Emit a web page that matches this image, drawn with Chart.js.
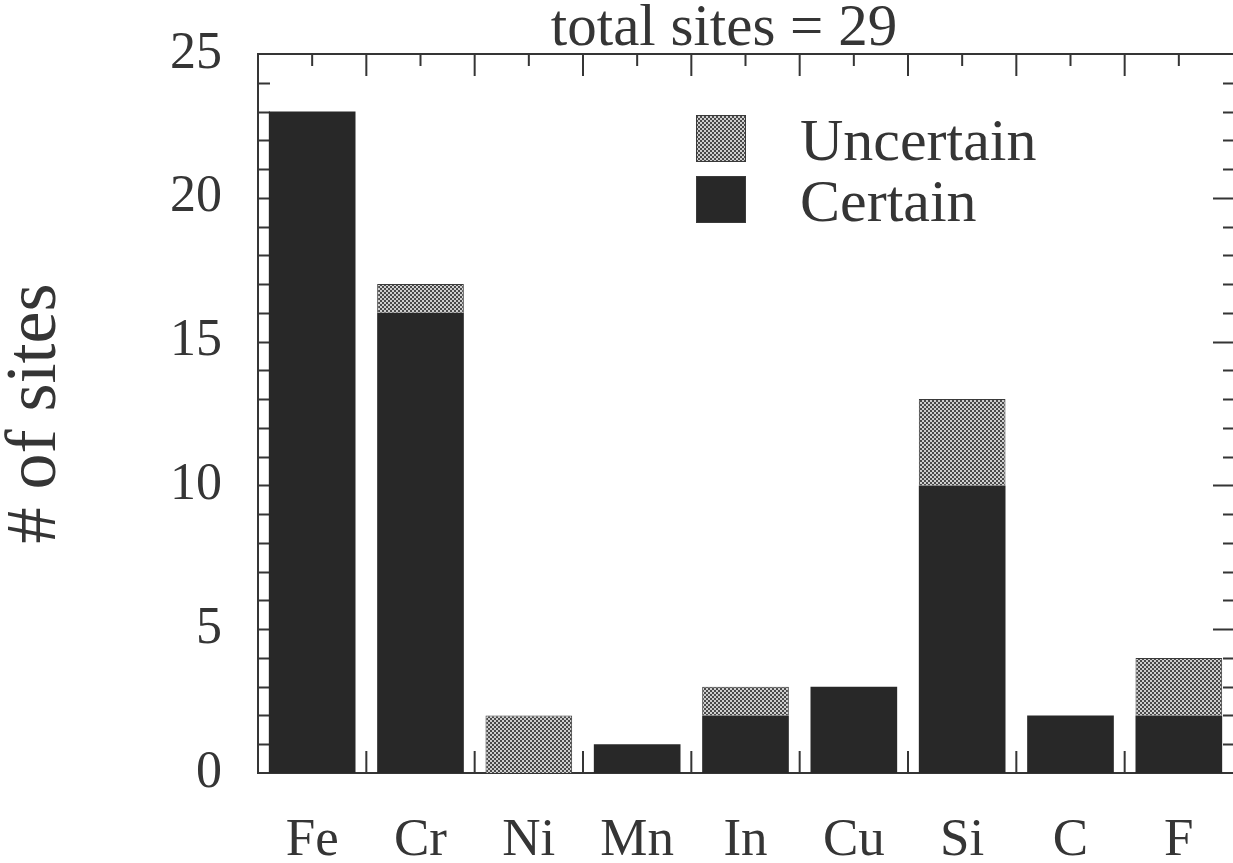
<!DOCTYPE html>
<html>
<head>
<meta charset="utf-8">
<script src="https://cdn.jsdelivr.net/npm/chart.js@4"></script>
<style>
  html, body { margin: 0; padding: 0; background: #fff; overflow: hidden; }
</style>
</head>
<body>
<canvas id="sitesChart" width="1233" height="863"></canvas>
<script>
// data
const elements = ["Fe", "Cr", "Ni", "Mn", "In", "Cu", "Si", "C", "F"];
const certain = [23, 16, 0, 1, 2, 3, 10, 2, 2];
const uncertain = [0, 1, 2, 0, 1, 0, 3, 0, 2];
const yTicks = [0, 5, 10, 15, 20, 25];
const titleText = "total sites = 29";

const FONT = "'Liberation Serif', 'Times New Roman', serif";
const INK = "#353535";
const BAR_DARK = "#282828";

// checkered fill for the "uncertain" bars
function checker() {
  const c = document.createElement("canvas");
  c.width = 4;
  c.height = 4;
  const g = c.getContext("2d");
  g.fillStyle = "#cfcfcf";
  g.fillRect(0, 0, 4, 4);
  g.fillStyle = "#4a4a4a";
  g.fillRect(0, 0, 2, 2);
  g.fillRect(2, 2, 2, 2);
  return g.createPattern(c, "repeat");
}
const hatch = checker();

// frame + inward ticks, drawn under the bars
// (the right-hand frame line sits just past the picture edge)
const frameTicks = {
  id: "frameTicks",
  beforeDatasetsDraw(chart) {
    const { ctx, chartArea: a, scales } = chart;
    const x = scales.x, y = scales.y;
    ctx.save();
    ctx.strokeStyle = INK;
    ctx.lineWidth = 2;
    ctx.beginPath();
    // y ticks, every unit, longer at multiples of 5
    for (let v = 1; v < 25; v++) {
      const py = Math.round(y.getPixelForValue(v)) + 0.5;
      const len = v % 5 === 0 ? 22 : 12;
      ctx.moveTo(a.left, py); ctx.lineTo(a.left + len, py);
      ctx.moveTo(a.right + 2, py); ctx.lineTo(a.right + 2 - len, py);
    }
    // x ticks: major between categories, minor at centres
    for (let i = 0; i < elements.length; i++) {
      const c = x.getPixelForValue(i);
      ctx.moveTo(c, a.top); ctx.lineTo(c, a.top + 12);
      ctx.moveTo(c, a.bottom); ctx.lineTo(c, a.bottom - 12);
      if (i < elements.length - 1) {
        const b = (c + x.getPixelForValue(i + 1)) / 2;
        ctx.moveTo(b, a.top); ctx.lineTo(b, a.top + 22);
        ctx.moveTo(b, a.bottom); ctx.lineTo(b, a.bottom - 22);
      }
    }
    // left, top, bottom frame lines
    ctx.moveTo(a.right + 2, a.top); ctx.lineTo(a.left, a.top);
    ctx.lineTo(a.left, a.bottom); ctx.lineTo(a.right + 2, a.bottom);
    ctx.stroke();
    ctx.restore();
  },
  afterDraw(chart) {
    const { ctx } = chart;
    ctx.save();
    // title
    ctx.fillStyle = INK;
    ctx.font = "59px " + FONT;
    ctx.textAlign = "center";
    ctx.textBaseline = "alphabetic";
    ctx.fillText(titleText, 724, 45);
    // legend
    const items = [
      { label: "Uncertain", fill: hatch, y: 115, base: 160 },
      { label: "Certain", fill: BAR_DARK, y: 176, base: 221 },
    ];
    ctx.font = "60px " + FONT;
    ctx.textAlign = "left";
    items.forEach((it) => {
      ctx.fillStyle = it.fill;
      ctx.fillRect(696, it.y, 50, 47);
      ctx.strokeStyle = "#3a3a3a";
      ctx.lineWidth = 1;
      ctx.strokeRect(696.5, it.y + 0.5, 49, 46);
      ctx.fillStyle = INK;
      ctx.fillText(it.label, 800, it.base);
    });
    ctx.restore();
  },
};

const ctxSites = document.getElementById("sitesChart").getContext("2d");
const sitesChart = new Chart(ctxSites, {
  type: "bar",
  data: {
    labels: elements,
    datasets: [
      {
        label: "Certain",
        data: certain,
        backgroundColor: BAR_DARK,
        borderWidth: 0,
        categoryPercentage: 1,
        barPercentage: 0.8,
      },
      {
        label: "Uncertain",
        data: uncertain,
        backgroundColor: hatch,
        borderColor: "#3a3a3a",
        borderWidth: (c) => (c.raw > 0 ? 1 : 0),
        categoryPercentage: 1,
        barPercentage: 0.8,
      },
    ],
  },
  options: {
    responsive: false,
    animation: false,
    devicePixelRatio: 1,
    layout: { padding: { top: 54, right: 0, left: 0, bottom: 0 } },
    plugins: {
      legend: { display: false },
      title: { display: false },
      tooltip: { enabled: false },
    },
    scales: {
      x: {
        stacked: true,
        grid: { display: false, drawTicks: false },
        border: { display: false },
        ticks: {
          font: { family: FONT, size: 53 },
          color: INK,
          padding: 36,
          maxRotation: 0,
          autoSkip: false,
        },
        afterFit(s) { s.height = 90; },
      },
      y: {
        stacked: true,
        min: 0,
        max: 25,
        afterBuildTicks(s) { s.ticks = yTicks.map((v) => ({ value: v })); },
        grid: { display: false, drawTicks: false },
        border: { display: false },
        ticks: {
          font: { family: FONT, size: 52, lineHeight: 0.4 },
          color: INK,
          padding: 36,
        },
        title: {
          display: true,
          text: "# of sites",
          font: { family: FONT, size: 72, lineHeight: 1 },
          color: INK,
          padding: { top: 0, bottom: 0 },
        },
        afterFit(s) { s.width = 258; },
      },
    },
  },
  plugins: [frameTicks],
});
</script>
</body>
</html>
